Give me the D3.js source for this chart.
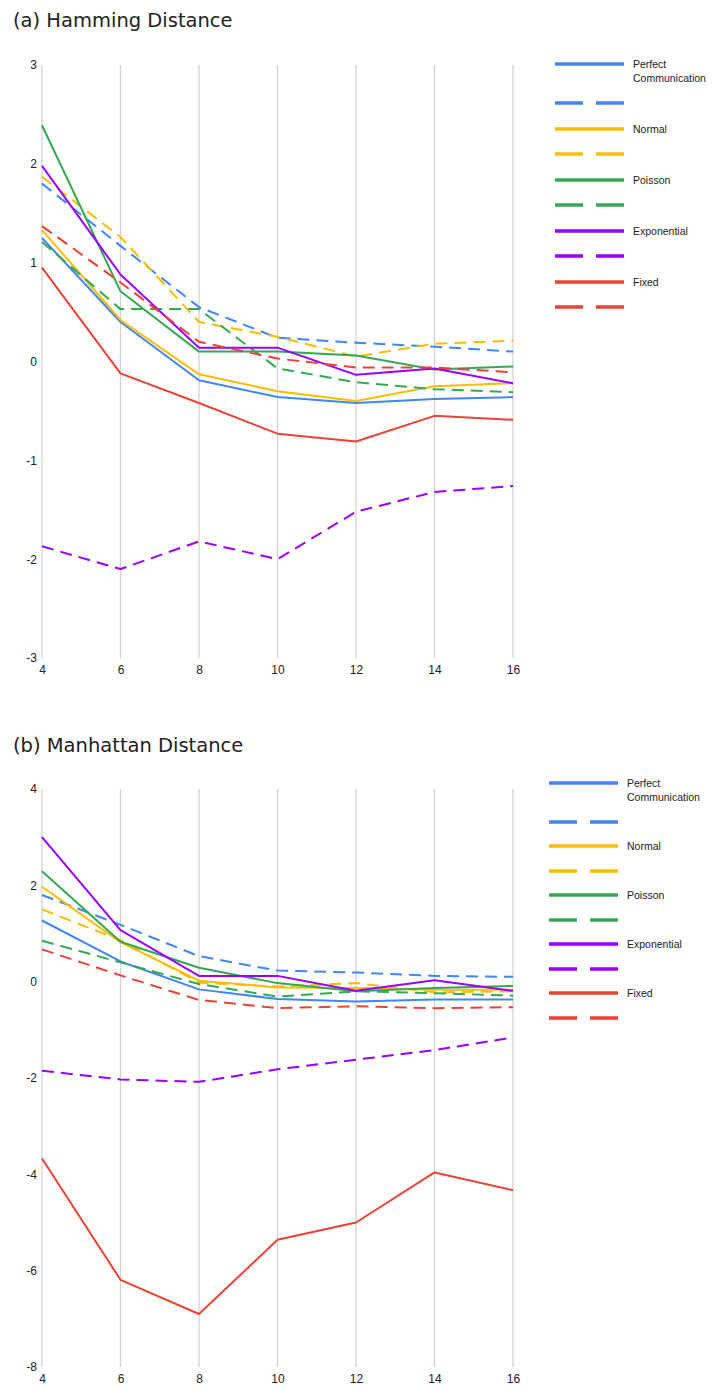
<!DOCTYPE html>
<html>
<head>
<meta charset="utf-8">
<script src="https://cdn.jsdelivr.net/npm/d3@7"></script>
<style>
  body { margin: 0; background: #fff; }
  svg { display: block; }
</style>
</head>
<body>
<div id="chart"></div>
<script>
// x values (number of agents) shared by both panels
const xValues = [4, 6, 8, 10, 12, 14, 16]
const seriesNames = ["Perfect Communication", "Normal", "Poisson", "Exponential", "Fixed"]

// (a) Hamming distance
const hammingPerfect = [1.25, 0.40, -0.19, -0.36, -0.42, -0.38, -0.36]
const hammingPerfectDash = [1.80, 1.17, 0.55, 0.24, 0.19, 0.15, 0.10]
const hammingNormal = [1.33, 0.42, -0.13, -0.30, -0.40, -0.25, -0.22]
const hammingNormalDash = [1.87, 1.26, 0.40, 0.25, 0.05, 0.18, 0.21]
const hammingPoisson = [2.39, 0.71, 0.10, 0.10, 0.06, -0.08, -0.05]
const hammingPoissonDash = [1.21, 0.53, 0.53, -0.07, -0.21, -0.28, -0.31]
const hammingExponential = [1.98, 0.88, 0.14, 0.14, -0.135, -0.07, -0.22]
const hammingExponentialDash = [-1.87, -2.10, -1.82, -2.00, -1.52, -1.32, -1.26]
const hammingFixed = [0.95, -0.12, -0.42, -0.73, -0.81, -0.55, -0.59]
const hammingFixedDash = [1.37, 0.80, 0.20, 0.03, -0.06, -0.06, -0.11]
const hammingTicks = [-3, -2, -1, 0, 1, 2, 3]

// (b) Manhattan distance
const manhattanPerfect = [1.27, 0.42, -0.16, -0.36, -0.41, -0.37, -0.37]
const manhattanPerfectDash = [1.80, 1.18, 0.53, 0.23, 0.19, 0.12, 0.10]
const manhattanNormal = [1.97, 0.82, 0.02, -0.12, -0.13, -0.17, -0.17]
const manhattanNormalDash = [1.50, 0.86, -0.02, -0.10, -0.03, -0.22, -0.20]
const manhattanPoisson = [2.29, 0.83, 0.29, -0.03, -0.20, -0.13, -0.09]
const manhattanPoissonDash = [0.85, 0.40, -0.05, -0.31, -0.20, -0.24, -0.29]
const manhattanExponential = [3.00, 1.07, 0.12, 0.12, -0.19, 0.03, -0.19]
const manhattanExponentialDash = [-1.85, -2.03, -2.08, -1.82, -1.62, -1.42, -1.16]
const manhattanFixed = [-3.67, -6.19, -6.90, -5.36, -5.00, -3.96, -4.33]
const manhattanFixedDash = [0.67, 0.13, -0.38, -0.55, -0.51, -0.55, -0.53]
const manhattanTicks = [-8, -6, -4, -2, 0, 2, 4]

const colors = ["#4285F4", "#FBBC04", "#34A853", "#9900FF", "#EA4335"]

const width = 712, height = 1389

var svg = d3.select("#chart")
    .append("svg")
    .attr("width", width)
    .attr("height", height)

var x = d3.scaleLinear().domain([4, 16]).range([42, 513])

function drawPanel(opts) {
    var g = svg.append("g")
    var y = d3.scaleLinear().domain(opts.domain).range([opts.bottom, opts.top])

    g.append("text")
        .attr("x", 13)
        .attr("y", opts.titleY)
        .style("font-family", "DejaVu Sans, Verdana, sans-serif")
        .style("font-size", "19.5px")
        .attr("fill", "#222")
        .text(opts.title)

    // vertical gridlines
    g.selectAll(".grid")
        .data(xValues)
        .enter()
        .append("line")
            .attr("x1", d => x(d))
            .attr("x2", d => x(d))
            .attr("y1", y(opts.domain[1]))
            .attr("y2", y(opts.domain[0]))
            .attr("stroke", "#d3d3d3")
            .attr("stroke-width", 1.3)

    // y axis labels (plain hyphen minus, no decimals)
    var yAxis = g.append("g")
        .attr("transform", "translate(37,0)")
        .call(d3.axisLeft(y).tickValues(opts.ticks).tickSize(0).tickPadding(0)
            .tickFormat(d => String(d)))
    yAxis.select(".domain").remove()
    yAxis.selectAll("text")
        .style("font-family", "Liberation Sans, Arial, sans-serif")
        .style("font-size", "12px")
        .attr("fill", "#222")

    // x axis labels
    var xAxis = g.append("g")
        .attr("transform", "translate(0," + (opts.bottom + 4) + ")")
        .call(d3.axisBottom(x).tickValues(xValues).tickSize(0).tickPadding(3)
            .tickFormat(d => String(d)))
    xAxis.select(".domain").remove()
    xAxis.selectAll("text")
        .style("font-family", "Liberation Sans, Arial, sans-serif")
        .style("font-size", "12px")
        .attr("fill", "#222")

    var line = d3.line()
        .x((d, i) => x(xValues[i]))
        .y(d => y(d))

    opts.series.forEach(function(s, k) {
        g.append("path")
            .datum(s.values)
            .attr("d", line)
            .attr("fill", "none")
            .attr("stroke", colors[Math.floor(k / 2)])
            .attr("stroke-width", 2)
            .attr("stroke-linejoin", "round")
            .attr("stroke-dasharray", s.dashed ? "12,7" : null)
    })

    // legend
    var leg = g.append("g")
    opts.series.forEach(function(s, k) {
        var ly = opts.legendY[k]
        leg.append("line")
            .attr("x1", opts.legendX)
            .attr("x2", opts.legendX + 69)
            .attr("y1", ly)
            .attr("y2", ly)
            .attr("stroke", colors[Math.floor(k / 2)])
            .attr("stroke-width", 3.5)
            .attr("stroke-dasharray", s.dashed ? "28,13" : null)
        if (!s.dashed) {
            var words = seriesNames[k / 2] == "Perfect Communication" ? ["Perfect", "Communication"] : [seriesNames[k / 2]]
            var t = leg.append("text")
                .attr("x", opts.legendX + 78)
                .attr("y", ly + 3.5)
                .style("font-family", "Liberation Sans, Arial, sans-serif")
                .style("font-size", "10.5px")
                .attr("fill", "#222")
            words.forEach(function(w, j) {
                t.append("tspan")
                    .attr("x", opts.legendX + 78)
                    .attr("dy", j == 0 ? 0 : 14)
                    .text(w)
            })
        }
    })
}

drawPanel({
    title: "(a) Hamming Distance",
    titleY: 27,
    domain: [-3, 3],
    ticks: hammingTicks,
    top: 65,
    bottom: 658,
    legendX: 555,
    legendY: [64, 103, 129, 154, 180, 205, 231, 256, 282, 307],
    series: [
        { values: hammingPerfect }, { values: hammingPerfectDash, dashed: true },
        { values: hammingNormal }, { values: hammingNormalDash, dashed: true },
        { values: hammingPoisson }, { values: hammingPoissonDash, dashed: true },
        { values: hammingExponential }, { values: hammingExponentialDash, dashed: true },
        { values: hammingFixed }, { values: hammingFixedDash, dashed: true }
    ]
})

drawPanel({
    title: "(b) Manhattan Distance",
    titleY: 752,
    domain: [-8, 4],
    ticks: manhattanTicks,
    top: 789,
    bottom: 1367,
    legendX: 549,
    legendY: [783, 822, 846, 871, 895, 920, 944, 969, 993, 1018],
    series: [
        { values: manhattanPerfect }, { values: manhattanPerfectDash, dashed: true },
        { values: manhattanNormal }, { values: manhattanNormalDash, dashed: true },
        { values: manhattanPoisson }, { values: manhattanPoissonDash, dashed: true },
        { values: manhattanExponential }, { values: manhattanExponentialDash, dashed: true },
        { values: manhattanFixed }, { values: manhattanFixedDash, dashed: true }
    ]
})
</script>
</body>
</html>
